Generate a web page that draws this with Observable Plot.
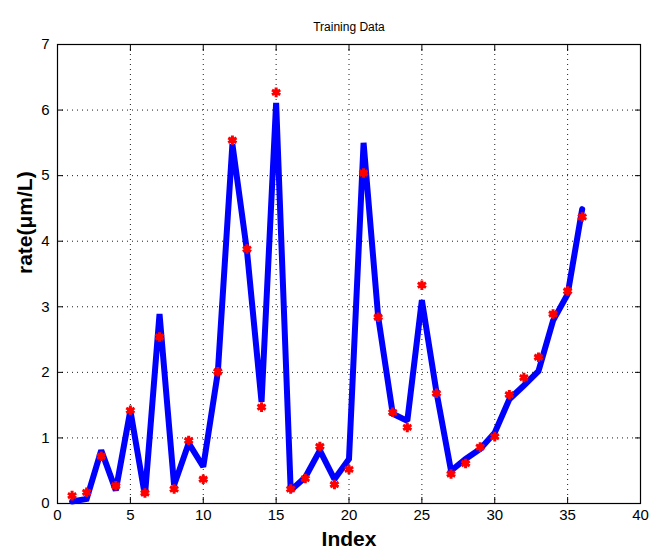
<!DOCTYPE html>
<html><head><meta charset="utf-8">
<script src="https://cdn.jsdelivr.net/npm/d3@7"></script>
<script src="https://cdn.jsdelivr.net/npm/@observablehq/plot@0.6"></script>
<style>body{margin:0;background:#fff;font-family:"Liberation Sans",Arial,sans-serif;}</style>
</head><body><div id="chart"></div>
<script>
const index = d3.range(1, 37);
const fitted = [0.03,0.07,0.81,0.2,1.42,0.12,2.89,0.28,0.92,0.56,2.0,5.48,3.85,1.55,6.11,0.2,0.4,0.81,0.37,0.68,5.5,2.85,1.37,1.26,3.1,1.7,0.5,0.68,0.83,1.08,1.59,1.8,2.02,2.79,3.19,4.49];
const measured = [0.12,0.17,0.72,0.27,1.42,0.16,2.54,0.22,0.96,0.37,2.01,5.54,3.88,1.47,6.27,0.22,0.38,0.87,0.29,0.52,5.04,2.84,1.39,1.16,3.33,1.68,0.45,0.61,0.86,1.02,1.66,1.92,2.23,2.89,3.24,4.37];
const xTicks = [0,5,10,15,20,25,30,35,40];
const yTicks = [0,1,2,3,4,5,6,7];
const title = "Training Data";
const xLabel = "Index";
const yLabel = "rate(μm/L)";

const lineData = index.map((x,i)=>({x, y: fitted[i]}));
const dotData = index.map((x,i)=>({x, y: measured[i]}));
const fmt = d3.format("d");

const chart = Plot.plot({
  width: 649, height: 556,
  marginLeft: 57, marginRight: 9, marginTop: 44, marginBottom: 53,
  style: {fontFamily: '"Liberation Sans", Arial, sans-serif', fontSize: "14px", background: "#fff", color: "#000"},
  x: {domain: [0, 40]},
  y: {domain: [0, 7]},
  marks: [
    Plot.gridX(xTicks, {stroke: "#000", strokeOpacity: 0.9, strokeDasharray: "1,4", strokeWidth: 1}),
    Plot.gridY(yTicks, {stroke: "#000", strokeOpacity: 0.9, strokeDasharray: "1,4", strokeWidth: 1}),
    Plot.frame({stroke: "#000", strokeWidth: 1.2}),
    Plot.axisX(xTicks, {anchor: "bottom", tickSize: -6, tickPadding: 12, tickFormat: fmt, label: null, fontSize: 15}),
    Plot.axisX(xTicks, {anchor: "top", tickSize: -6, tickFormat: () => "", label: null}),
    Plot.axisY(yTicks, {anchor: "left", tickSize: -6, tickPadding: 14, tickFormat: fmt, label: null, fontSize: 15}),
    Plot.axisY(yTicks, {anchor: "right", tickSize: -6, tickFormat: () => "", label: null}),
    Plot.line(lineData, {x: "x", y: "y", stroke: "#0000ff", strokeWidth: 6, strokeLinejoin: "miter", strokeMiterlimit: 1.6}),
    Plot.dot(dotData, {x: "x", y: "y", symbol: "asterisk", stroke: "#ff0000", strokeWidth: 3, r: 4.5}),
    Plot.dot(dotData, {x: "x", y: "y", fill: "#ff0000", r: 3}),
    Plot.text([title], {frameAnchor: "top", dy: -22, text: d => d, fontSize: 12, fill: "#000"}),
    Plot.text([xLabel], {frameAnchor: "bottom", dy: 42, text: d => d, fontSize: 21, fontWeight: "bold", fill: "#000"}),
    Plot.text([yLabel], {frameAnchor: "left", dx: -32, rotate: -90, text: d => d, fontSize: 21, fontWeight: "bold", fill: "#000"})
  ]
});
document.getElementById("chart").append(chart);
</script></body></html>
